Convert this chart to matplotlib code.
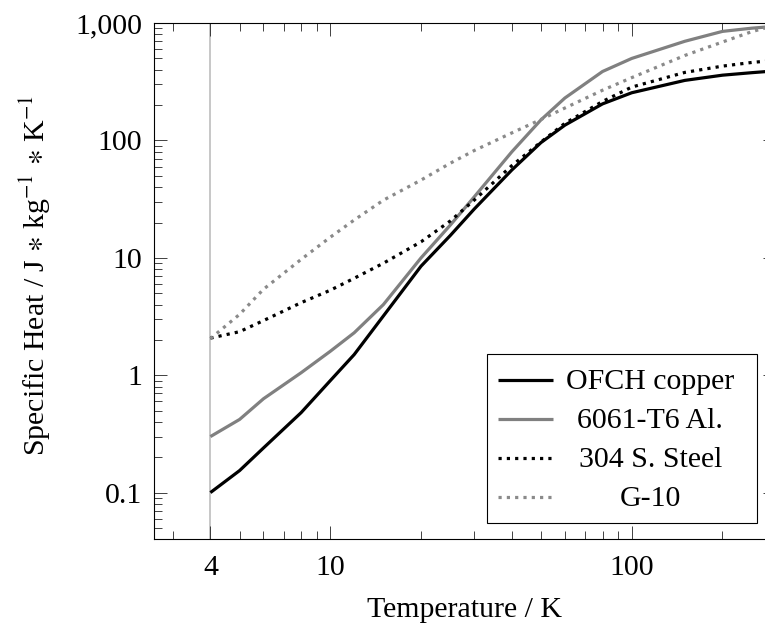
import numpy as np
import matplotlib
matplotlib.use('Agg')
import matplotlib.pyplot as plt
from matplotlib.ticker import LogLocator, FixedLocator, NullFormatter
from matplotlib.lines import Line2D
from matplotlib.patches import Rectangle

plt.rcParams['font.family'] = ['Liberation Serif', 'DejaVu Serif']
plt.rcParams['mathtext.fontset'] = 'stix'

# temperatures (K) shared by all materials
temps = [4, 5, 6, 8, 10, 12, 15, 20, 25, 30, 40, 50, 60, 80, 100, 150, 200, 250, 300]

# specific heat, J/(kg K)
cp_copper = [0.10, 0.154, 0.24, 0.48, 0.90, 1.5, 3.2, 8.5, 15.5, 26, 56, 96, 135, 205, 255, 325, 360, 378, 392]
cp_al6061 = [0.30, 0.42, 0.63, 1.05, 1.6, 2.3, 4.0, 10.0, 19, 33, 80, 150, 230, 387, 500, 700, 850, 905, 940]
cp_ss304  = [2.07, 2.35, 2.92, 4.15, 5.3, 6.7, 9.0, 13.7, 20.6, 31, 61, 97, 140, 215, 285, 380, 430, 462, 482]
cp_g10    = [2.05, 3.3, 5.4, 9.7, 15, 21, 31, 46, 64, 82, 116, 151, 189, 268, 343, 530, 690, 845, 960]

labels = ['OFCH copper', '6061-T6 Al.', '304 S. Steel', 'G-10']

x_ticks = [4, 10, 100]
x_ticklabels = ['4', '10', '100']
y_ticks = [0.1, 1, 10, 100, 1000]
y_ticklabels = ['0.1', '1', '10', '100', '1,000']

FS = 21.5
LW = 2.3
DOT = (0, (1, 1.6))
styles = [
    dict(color='black', lw=LW, ls='-'),
    dict(color='#808080', lw=LW, ls='-'),
    dict(color='black', lw=LW, ls=DOT),
    dict(color='#8a8a8a', lw=LW, ls=DOT),
]

fig = plt.figure(figsize=(7.65, 6.26), dpi=100)
# axis box runs a bit past the right edge of the picture, like the original
ax = fig.add_axes([0.2013, 0.1385, 0.8125, 0.8246])

ax.axvline(4, color='#bdbdbd', lw=1.2, zorder=1)

for cp, st in zip([cp_copper, cp_al6061, cp_ss304, cp_g10], styles):
    ax.plot(temps, cp, zorder=3, solid_capstyle='butt', **st)

ax.set_xscale('log')
ax.set_yscale('log')
ax.set_xlim(2.6, 300)
ax.set_ylim(0.04, 1000)

ax.xaxis.set_major_locator(FixedLocator(x_ticks))
ax.set_xticklabels(x_ticklabels)
ax.yaxis.set_major_locator(FixedLocator(y_ticks))
ax.set_yticklabels(y_ticklabels)
ax.xaxis.set_minor_locator(LogLocator(base=10, subs=np.arange(2, 10), numticks=30))
ax.yaxis.set_minor_locator(LogLocator(base=10, subs=np.arange(2, 10), numticks=30))
ax.xaxis.set_minor_formatter(NullFormatter())
ax.yaxis.set_minor_formatter(NullFormatter())

ax.tick_params(which='both', direction='in', top=True, right=True,
               width=0.6, color='#222222', labelsize=FS)
ax.tick_params(which='major', length=9.4)
ax.tick_params(which='minor', length=6.0)
ax.tick_params(axis='x', pad=11)
ax.tick_params(axis='y', pad=8.5)
for sp in ax.spines.values():
    sp.set_linewidth(0.8)
    sp.set_color('black')

ax.set_xlabel('Temperature / K', fontsize=FS)
ax.set_ylabel(r'Specific Heat / J $\ast$ kg$^{-1}$ $\ast$ K$^{-1}$', fontsize=FS)
ax.xaxis.set_label_coords(0.5, -0.111)
ax.yaxis.set_label_coords(-0.1625, 0.51)

# legend box drawn by hand so the labels can be centred
ax.add_patch(Rectangle((0.5352, 0.031), 0.9701 - 0.5352, 0.359 - 0.031,
                       transform=ax.transAxes, facecolor='white',
                       edgecolor='black', lw=0.8, zorder=5))
row_mid = [0.3086, 0.2331, 0.1581, 0.0825]
row_base = [0.2912, 0.2156, 0.1406, 0.0651]
for lab, st, ym, yb in zip(labels, styles, row_mid, row_base):
    ax.add_line(Line2D([0.5534, 0.6414], [ym, ym], transform=ax.transAxes,
                       zorder=6, solid_capstyle='butt', **st))
    ax.text(0.7987, yb, lab, transform=ax.transAxes, ha='center',
            va='baseline', fontsize=FS, zorder=6)

fig.savefig('out.png', dpi=100)
